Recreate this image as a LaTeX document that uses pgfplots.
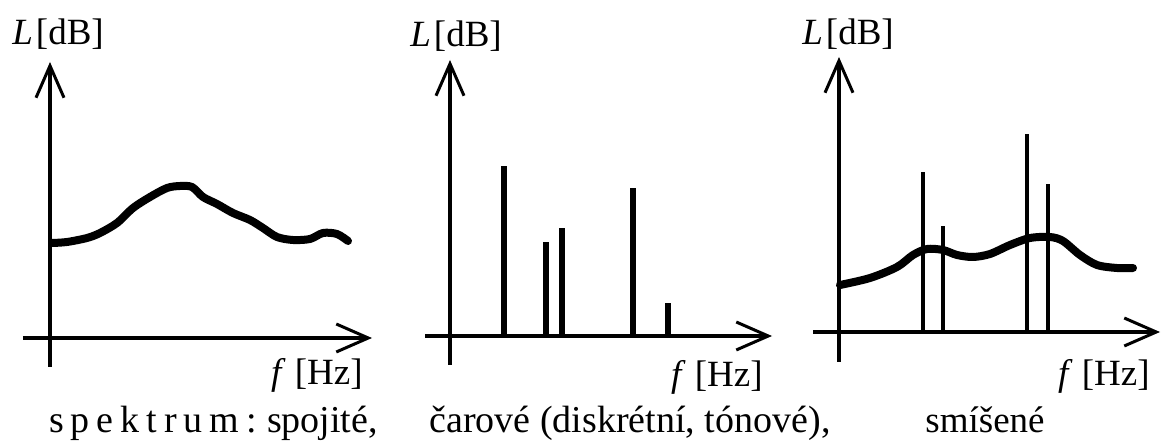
\documentclass[border=0pt]{standalone}
\usepackage{pgfplots}
\pgfplotsset{compat=1.18}
\usepackage{fontspec}
\setmainfont{Liberation Serif}
\usetikzlibrary{arrows.meta}

% One panel: arrowed axes crossing at the origin, no ticks; 1 unit = 0.5pt
\pgfplotsset{
  panel/.style={
    x=0.5pt, y=0.5pt,
    anchor=south west,
    axis lines=middle,
    inner axis line style={line width=1.8pt,
      -{Straight Barb[length=16pt,width=14pt,line width=1.5pt]}},
    xtick=\empty, ytick=\empty,
    clip=false,
  },
}
\tikzset{lbl/.style={font=\fontsize{18.5pt}{20pt}\selectfont, inner sep=0pt}}
\newcommand\gap{\hspace{3.5pt}}

\begin{document}
\begin{tikzpicture}
\useasboundingbox (0,0) rectangle (580.5pt,222pt);

% continuous spectrum
\begin{axis}[panel, at={(11.5pt,38.5pt)},
    xmin=-27, xmax=322, ymin=-29, ymax=276]
  \addplot[black, smooth, line width=4pt, line cap=round, line join=round]
    coordinates {(2,95) (17,96) (37,100) (50,105) (67,115) (83,130) (100,141)
      (117,150) (130,152) (142,151) (153,141) (167,134) (183,125) (200,118)
      (213,110) (227,101) (243,98) (260,99) (273,105) (287,104) (298,97)};
  \node[lbl, anchor=base west] at (axis cs:-38,293) {\textit{L}\kern1.5pt[dB]};
  \node[lbl, anchor=base east] at (axis cs:313,-47) {\textit{f} [Hz]};
\end{axis}

% line (discrete) spectrum
\begin{axis}[panel, at={(212.5pt,39.5pt)},
    xmin=-25, xmax=322, ymin=-29, ymax=276]
  \addplot[black, ycomb, line width=2.6pt, no marks]
    coordinates {(54,170) (96,94) (112,108) (183,148) (218,33)};
  \node[lbl, anchor=base west] at (axis cs:-40,289) {\textit{L}\kern1.5pt[dB]};
  \node[lbl, anchor=base east] at (axis cs:313,-51) {\textit{f} [Hz]};
\end{axis}

% mixed spectrum
\begin{axis}[panel, at={(406.5pt,41pt)},
    xmin=-26, xmax=321, ymin=-30, ymax=275]
  \addplot[black, ycomb, line width=2.1pt, no marks]
    coordinates {(84,160) (104,106) (188,198) (209,148)};
  \addplot[black, smooth, line width=4pt, line cap=round, line join=round]
    coordinates {(1,47) (31,54) (58,65) (74,77) (88,83) (104,82) (118,77)
      (134,75) (151,78) (171,87) (191,94) (211,95) (224,91) (241,77)
      (258,67) (278,64) (294,64)};
  \node[lbl, anchor=base west] at (axis cs:-37,287) {\textit{L}\kern1.5pt[dB]};
  \node[lbl, anchor=base east] at (axis cs:311,-54) {\textit{f} [Hz]};
\end{axis}

% captions
\begin{scope}[every node/.style={font=\fontsize{19pt}{22pt}\selectfont, inner sep=0pt, anchor=base}]
  \node at (106.75pt,5.5pt) {s\gap p\gap e\gap k\gap t\gap r\gap u\gap m\gap :\hspace{5pt}spojité,};
  \node at (315pt,5.5pt) {čarové (diskrétní, tónové),};
  \node[font=\fontsize{18.5pt}{22pt}\selectfont] at (492.5pt,5.5pt) {smíšené};
\end{scope}
\end{tikzpicture}
\end{document}
